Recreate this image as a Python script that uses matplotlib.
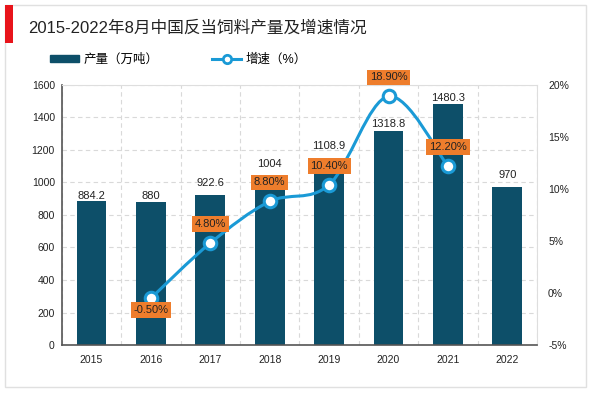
import matplotlib

matplotlib.use("Agg")
import matplotlib.pyplot as plt
import numpy as np
from matplotlib.lines import Line2D
from matplotlib.patches import Patch, PathPatch, Rectangle
from matplotlib.path import Path

plt.rcParams["font.family"] = ["Liberation Sans", "Noto Sans CJK SC", "DejaVu Sans"]

years = ["2015", "2016", "2017", "2018", "2019", "2020", "2021", "2022"]
output = [884.2, 880, 922.6, 1004, 1108.9, 1318.8, 1480.3, 970]
output_labels = ["884.2", "880", "922.6", "1004", "1108.9", "1318.8", "1480.3", "970"]
growth_years = ["2016", "2017", "2018", "2019", "2020", "2021"]
growth = [-0.5, 4.8, 8.8, 10.4, 18.9, 12.2]
growth_labels = ["-0.50%", "4.80%", "8.80%", "10.40%", "18.90%", "12.20%"]

BAR = "#0D4F69"
LINE = "#1A9AD6"
ORANGE = "#EE7D2C"

fig = plt.figure(figsize=(6.0, 3.93), dpi=100)
# card border + red accent
fig.patches.append(Rectangle((0.008, 0.015), 0.968, 0.972, transform=fig.transFigure,
                             fill=False, ec="0.88", lw=1.0))
fig.patches.append(Rectangle((0.008, 0.891), 0.013, 0.096, transform=fig.transFigure,
                             color="#E8141B", lw=0))
fig.text(0.047, 0.93, "2015-2022年8月中国反当饲料产量及增速情况", fontsize=12,
         va="center", ha="left", color="#222222")

ax = fig.add_axes([0.103, 0.122, 0.792, 0.662])
x = np.arange(len(years))
ax.bar(x, output, width=0.5, color=BAR, zorder=2)
# pixel lift of each value label above its bar (some pushed up to clear the boxes)
lift = [5, 6, 12, 18, 19, 7, 6, 12]
for xi, v, lab, dy in zip(x, output, output_labels, lift):
    ax.annotate(lab, (xi, v), xytext=(0, dy), textcoords="offset pixels",
                ha="center", va="center", fontsize=8, color="#222222", zorder=5)
ax.set_xlim(-0.5, len(years) - 0.5)
ax.set_ylim(0, 1600)
ax.set_yticks(np.arange(0, 1601, 200))
ax.set_xticks(x)
ax.set_xticklabels(years)
ax.tick_params(axis="both", length=0, labelsize=7.5, colors="#222222")
ax.tick_params(axis="x", pad=7)
ax.tick_params(axis="y", pad=5)
ax.set_xticks(np.arange(-0.5, len(years)), minor=True)
ax.tick_params(axis="x", which="minor", length=0)
ax.grid(axis="y", which="major", ls=(0, (4, 3)), color="0.85", lw=0.8, zorder=0)
ax.grid(axis="x", which="minor", ls=(0, (4, 3)), color="0.85", lw=0.8, zorder=0)
ax.grid(axis="x", which="major", visible=False)
for side in ("top", "right"):
    ax.spines[side].set_color("0.87")
    ax.spines[side].set_linewidth(0.8)
for side in ("left", "bottom"):
    ax.spines[side].set_color("#555555")
    ax.spines[side].set_linewidth(1.2)

ax2 = ax.twinx()
ax2.set_ylim(-5, 20)
ax2.set_yticks(np.arange(-5, 21, 5))
ax2.set_yticklabels([f"{t}%" for t in range(-5, 21, 5)])
ax2.tick_params(axis="y", length=0, labelsize=7.5, colors="#222222", pad=8)
for s in ax2.spines.values():
    s.set_visible(False)

gx = np.array([years.index(y) for y in growth_years], dtype=float)
gy = np.array(growth)
# smooth curve through the points (Catmull-Rom as cubic bezier)
verts = [(gx[0], gy[0])]
codes = [Path.MOVETO]
t = 1 / 6
for i in range(len(gx) - 1):
    p0 = (gx[max(i - 1, 0)], gy[max(i - 1, 0)])
    p1 = (gx[i], gy[i])
    p2 = (gx[i + 1], gy[i + 1])
    p3 = (gx[min(i + 2, len(gx) - 1)], gy[min(i + 2, len(gx) - 1)])
    c1 = (p1[0] + t * (p2[0] - p0[0]), p1[1] + t * (p2[1] - p0[1]))
    c2 = (p2[0] - t * (p3[0] - p1[0]), p2[1] - t * (p3[1] - p1[1]))
    verts += [c1, c2, p2]
    codes += [Path.CURVE4] * 3
ax2.add_patch(PathPatch(Path(verts, codes), fill=False, ec=LINE, lw=2.2, zorder=3))
ax2.plot(gx, gy, "o", ms=9, mfc="white", mec=LINE, mew=2.2, zorder=4, ls="none")

for xi, v, lab in zip(gx, gy, growth_labels):
    dy = -12 if v < 0 else 19
    ax2.annotate(lab, (xi, v), xytext=(0, dy), textcoords="offset pixels",
                 ha="center", va="center", fontsize=8, color="#222222", zorder=6,
                 bbox=dict(boxstyle="square,pad=0.25", fc=ORANGE, ec="none"))

handles = [Patch(color=BAR),
           Line2D([], [], color=LINE, lw=2.2, marker="o", ms=6, mfc="white", mec=LINE, mew=2)]
fig.legend(handles, ["产量（万吨）", "增速（%）"], loc="center left",
           bbox_to_anchor=(0.065, 0.848), ncol=2, frameon=False, fontsize=9,
           handlelength=2.3, handleheight=0.6, columnspacing=4.3, handletextpad=0.35)

fig.savefig("out.png", dpi=100)
